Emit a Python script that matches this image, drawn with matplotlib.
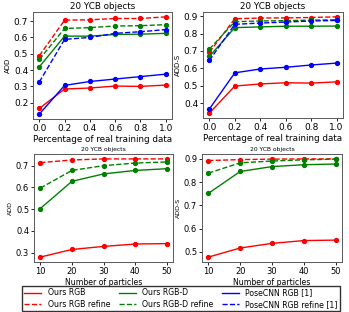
import matplotlib
matplotlib.use("Agg")
import matplotlib.pyplot as plt
from matplotlib.lines import Line2D
from matplotlib.ticker import MultipleLocator

W, H = 349, 312
pct = [0.0, 0.2, 0.4, 0.6, 0.8, 1.0]
particles = [10, 20, 30, 40, 50]

# Top-left: ADD vs percentage of real data
add_rgb = [0.165, 0.284, 0.290, 0.302, 0.300, 0.308]
add_rgb_ref = [0.488, 0.706, 0.708, 0.716, 0.716, 0.726]
add_rgbd = [0.420, 0.608, 0.608, 0.618, 0.620, 0.625]
add_rgbd_ref = [0.465, 0.655, 0.660, 0.670, 0.672, 0.678]
add_pcnn = [0.130, 0.306, 0.330, 0.345, 0.360, 0.375]
add_pcnn_ref = [0.327, 0.588, 0.600, 0.625, 0.635, 0.648]

# Top-right: ADD-S vs percentage of real data
adds_rgb = [0.342, 0.498, 0.510, 0.517, 0.515, 0.522]
adds_rgb_ref = [0.692, 0.885, 0.889, 0.890, 0.892, 0.896]
adds_rgbd = [0.668, 0.834, 0.838, 0.842, 0.842, 0.843]
adds_rgbd_ref = [0.710, 0.868, 0.872, 0.874, 0.877, 0.879]
adds_pcnn = [0.366, 0.574, 0.596, 0.606, 0.619, 0.630]
adds_pcnn_ref = [0.645, 0.853, 0.860, 0.866, 0.872, 0.875]

# Bottom-left: ADD vs number of particles
p_add_rgb = [0.280, 0.315, 0.329, 0.340, 0.342]
p_add_rgb_ref = [0.714, 0.726, 0.731, 0.731, 0.731]
p_add_rgbd = [0.503, 0.628, 0.662, 0.678, 0.686]
p_add_rgbd_ref = [0.597, 0.678, 0.700, 0.712, 0.717]

# Bottom-right: ADD-S vs number of particles
p_adds_rgb = [0.478, 0.517, 0.537, 0.549, 0.551]
p_adds_rgb_ref = [0.893, 0.897, 0.899, 0.900, 0.900]
p_adds_rgbd = [0.752, 0.846, 0.867, 0.875, 0.878]
p_adds_rgbd_ref = [0.839, 0.883, 0.891, 0.896, 0.899]

labels = ["Ours RGB", "Ours RGB refine", "Ours RGB-D", "Ours RGB-D refine",
          "PoseCNN RGB [1]", "PoseCNN RGB refine [1]"]

fig = plt.figure(figsize=(W / 100, H / 100), dpi=100)

def add_ax(x0, x1, top, bottom):
    return fig.add_axes([x0 / W, 1 - bottom / H, (x1 - x0) / W, (bottom - top) / H])

def style(ax, fs_tick, title, title_fs, ylabel, ylabel_fs, xlabel, xlabel_fs):
    ax.tick_params(labelsize=fs_tick, length=2, width=0.6, pad=1.5)
    ax.yaxis.set_major_locator(MultipleLocator(0.1))
    ax.set_title(title, fontsize=title_fs, pad=2)
    ax.set_ylabel(ylabel, fontsize=ylabel_fs, labelpad=2)
    ax.set_xlabel(xlabel, fontsize=xlabel_fs, labelpad=1.5)
    for s in ax.spines.values():
        s.set_color("0.35")
        s.set_linewidth(0.7)

kw = dict(marker="o", markersize=2.8, linewidth=1.0)

ax1 = add_ax(33, 172, 12, 119)
ax1.plot(pct, add_rgb, color="r", linestyle="-", **kw)
ax1.plot(pct, add_rgb_ref, color="r", linestyle="--", **kw)
ax1.plot(pct, add_rgbd, color="g", linestyle="-", **kw)
ax1.plot(pct, add_rgbd_ref, color="g", linestyle="--", **kw)
ax1.plot(pct, add_pcnn, color="b", linestyle="-", **kw)
ax1.plot(pct, add_pcnn_ref, color="b", linestyle="--", **kw)
ax1.set_xticks(pct)
style(ax1, 6.5, "20 YCB objects", 6.3, "ADD", 5, "Percentage of real training data", 6.3)

ax2 = add_ax(203, 343, 12, 118)
ax2.plot(pct, adds_rgb, color="r", linestyle="-", **kw)
ax2.plot(pct, adds_rgb_ref, color="r", linestyle="--", **kw)
ax2.plot(pct, adds_rgbd, color="g", linestyle="-", **kw)
ax2.plot(pct, adds_rgbd_ref, color="g", linestyle="--", **kw)
ax2.plot(pct, adds_pcnn, color="b", linestyle="-", **kw)
ax2.plot(pct, adds_pcnn_ref, color="b", linestyle="--", **kw)
ax2.set_xticks(pct)
style(ax2, 6.5, "20 YCB objects", 6.3, "ADD-S", 5, "Percentage of real training data", 6.3)

ax3 = add_ax(34, 173, 154, 262)
ax3.plot(particles, p_add_rgb, color="r", linestyle="-", **kw)
ax3.plot(particles, p_add_rgb_ref, color="r", linestyle="--", **kw)
ax3.plot(particles, p_add_rgbd, color="g", linestyle="-", **kw)
ax3.plot(particles, p_add_rgbd_ref, color="g", linestyle="--", **kw)
ax3.set_xticks(particles)
style(ax3, 6, "20 YCB objects", 4.3, "ADD", 4.5, "Number of particles", 5.6)

ax4 = add_ax(202, 342, 154, 262)
ax4.plot(particles, p_adds_rgb, color="r", linestyle="-", **kw)
ax4.plot(particles, p_adds_rgb_ref, color="r", linestyle="--", **kw)
ax4.plot(particles, p_adds_rgbd, color="g", linestyle="-", **kw)
ax4.plot(particles, p_adds_rgbd_ref, color="g", linestyle="--", **kw)
ax4.set_xticks(particles)
style(ax4, 6, "20 YCB objects", 4.3, "ADD-S", 4.5, "Number of particles", 5.6)

handles = [
    Line2D([], [], color="r", linestyle="-", linewidth=1.0),
    Line2D([], [], color="r", linestyle="--", linewidth=1.0),
    Line2D([], [], color="g", linestyle="-", linewidth=1.0),
    Line2D([], [], color="g", linestyle="--", linewidth=1.0),
    Line2D([], [], color="b", linestyle="-", linewidth=1.0),
    Line2D([], [], color="b", linestyle="--", linewidth=1.0),
]
leg = fig.legend(handles, labels, ncol=3, loc="upper left",
                 bbox_to_anchor=(22 / W, 1 - 311 / H, 318 / W, 25 / H),
                 mode="expand", fontsize=5.6, frameon=True, fancybox=False,
                 edgecolor="black", handlelength=2.2, handletextpad=0.8,
                 borderpad=0.3, labelspacing=0.3, columnspacing=1.0,
                 borderaxespad=0)
leg.get_frame().set_linewidth(1.0)

fig.savefig("out.png", dpi=100)
